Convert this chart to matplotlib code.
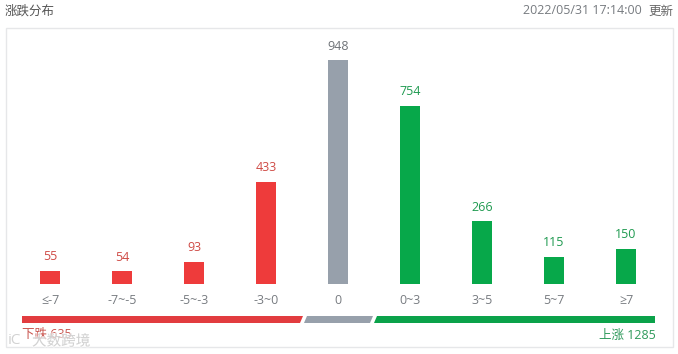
import matplotlib
matplotlib.use('Agg')
import matplotlib.pyplot as plt
from matplotlib.patches import Polygon, Rectangle
import matplotlib.patheffects as pe

plt.rcParams['font.family'] = ['Open Sans', 'Noto Sans CJK SC', 'DejaVu Sans']

categories = ['≤-7', '-7~-5', '-5~-3', '-3~0', '0', '0~3', '3~5', '5~7', '≥7']
counts = [55, 54, 93, 433, 948, 754, 266, 115, 150]
RED = '#ee3b3b'
GRAY = '#97a0ab'
GREEN = '#07a84a'
colors = [RED] * 4 + [GRAY] + [GREEN] * 4
label_colors = ['#cf4a45'] * 4 + ['#6f7378'] + ['#1f9a50'] * 4

W, H = 678, 354
fig = plt.figure(figsize=(W / 100, H / 100), dpi=100, facecolor='white')

# overlay in pixel coords, y going down like the screenshot
bg = fig.add_axes([0, 0, 1, 1])
bg.set_xlim(0, W)
bg.set_ylim(H, 0)
bg.axis('off')
bg.add_patch(Rectangle((5.5, 27.5), 667, 319.5, fc='white', ec='#e6e7e9', lw=1))

bg.text(5, 11, '涨跌分布', fontsize=9, color='#555555', va='center', ha='left')
bg.text(523, 11, '2022/05/31 17:14:00', fontsize=9, color='#777b80', va='center', ha='left')
bg.text(673, 11, '更新', fontsize=9, color='#666666', va='center', ha='right')

# bars
ax = fig.add_axes([14 / W, 1 - 284 / H, 648 / W, 236 / H])
ax.patch.set_alpha(0)
x = list(range(len(categories)))
ax.bar(x, counts, width=0.28, color=colors)
ax.set_xlim(-0.5, 8.5)
ax.set_ylim(0, 1000)
ax.set_yticks([])
ax.set_xticks(x)
ax.set_xticklabels(categories, fontsize=9, color='#777b80')
ax.tick_params(axis='x', length=0, pad=7)
for s in ax.spines.values():
    s.set_visible(False)
for i, v in enumerate(counts):
    ax.annotate(str(v), (i, v), xytext=(0, 5.5), textcoords='offset points',
                ha='center', va='bottom', fontsize=9, color=label_colors[i])

# summary strip under the bars
top, bot = 316, 323
bg.add_patch(Polygon([(22, top), (303, top), (300, bot), (22, bot)], fc='#e23c3f', ec='none'))
bg.add_patch(Polygon([(307, top), (373, top), (370, bot), (304, bot)], fc=GRAY, ec='none'))
bg.add_patch(Polygon([(377, top), (655, top), (655, bot), (374, bot)], fc='#0ba24a', ec='none'))
bg.text(22, 334, '下跌 635', fontsize=9, color='#c8524c', va='center', ha='left')
bg.text(656, 335, '上涨 1285', fontsize=9, color='#2f9a5c', va='center', ha='right')

# watermark
bg.text(32, 342, '大数跨境', fontsize=10.5, color='#cccccc', va='center', ha='left', alpha=0.85,
        path_effects=[pe.withStroke(linewidth=1.5, foreground='white', alpha=0.6)])
bg.text(8, 341, 'iC', fontsize=11, color='#d2d2d2', va='center', ha='left')

fig.savefig('out.png', dpi=100)
